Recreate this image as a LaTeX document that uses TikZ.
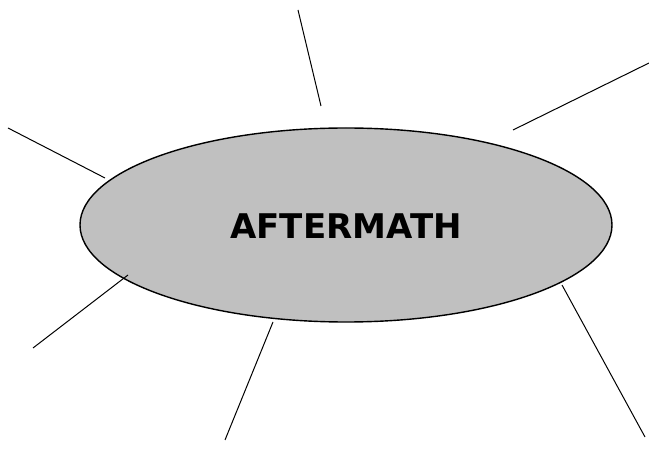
\documentclass[tikz,border=0pt]{standalone}
\usepackage{fontspec}
\setmainfont{DejaVu Sans}
\usetikzlibrary{shapes.geometric}
\definecolor{ovalgray}{HTML}{C0C0C0}
\tikzset{
  spoke/.style={draw=black, line width=1pt},
  oval/.style={ellipse, draw=black, line width=1.4pt, fill=ovalgray, minimum width=532pt, minimum height=194pt, inner sep=0pt},
}
\begin{document}
\begin{tikzpicture}[x=1pt,y=-1pt]
\useasboundingbox (0,0) rectangle (649,449);
\node[oval] (e) at (346,225) {};
\node[font=\bfseries\fontsize{34}{40}\selectfont] (t) at (346,226) {AFTERMATH};
\coordinate (a1) at (298,10);  \coordinate (b1) at (321,106);
\coordinate (a2) at (649,63);  \coordinate (b2) at (513,130);
\coordinate (a3) at (8,128);   \coordinate (b3) at (105,178);
\coordinate (a4) at (33,348);  \coordinate (b4) at (128,275);
\coordinate (a5) at (225,440); \coordinate (b5) at (273,322);
\coordinate (a6) at (645,437); \coordinate (b6) at (562,285);
\foreach \i in {1,...,6} \draw[spoke] (a\i) -- (b\i);
\end{tikzpicture}
\end{document}
